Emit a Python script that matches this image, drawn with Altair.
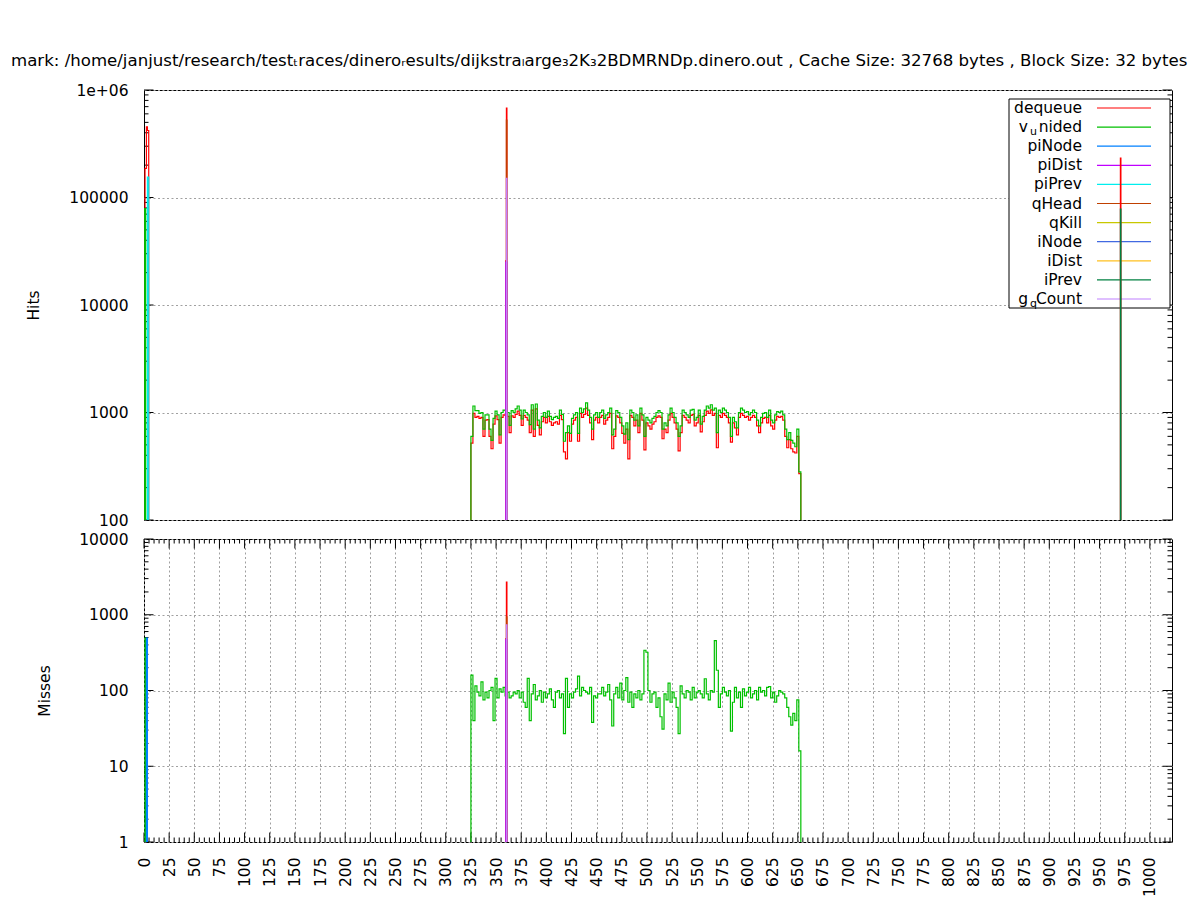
import altair as alt
import pandas as pd

FONT = "DejaVu Sans"
FS = 15.5

TITLE = ("mark: /home/janjust/research/test\u209craces/dinero\u1d63esults/"
         "dijkstra\u2097arge\u20832K\u20832BDMRNDp.dinero.out , Cache Size: 32768 bytes , "
         "Block Size: 32 bytes, Assoc: 1")

NAMES = ["dequeue", "v_unided", "piNode", "piDist", "piPrev", "qHead",
         "qKill", "iNode", "iDist", "iPrev", "g_qCount"]
COLORS = ["#ff0000", "#00c000", "#0080ff", "#c000ff", "#00eeee", "#c04000",
          "#c8c800", "#4169e1", "#ffc020", "#008040", "#c080ff"]
LEGEND_MAIN = ["dequeue", "nided", "piNode", "piDist", "piPrev", "qHead",
               "qKill", "iNode", "iDist", "iPrev", "Count"]
SUB_NAMES = ["v_unided", "g_qCount"]
SUB_PRE = ["v", "g"]
SUB_LOW = ["u", "q"]

X_DOMAIN = [0, 1022]
HITS_DOMAIN = [100, 1000000]
MISSES_DOMAIN = [1, 10000]
HITS_TICKS = [100, 1000, 10000, 100000, 1000000]
MISSES_TICKS = [1, 10, 100, 1000, 10000]
X_TICKS = list(range(0, 1001, 25))
X_MINOR = [v for v in range(0, 1021, 5) if v % 25]
HITS_MINOR = [m * 10 ** e for e in range(2, 6) for m in range(2, 10)]
MISSES_MINOR = [m * 10 ** e for e in range(0, 4) for m in range(2, 10)]

LO = 0.01  # below the log axis -> drawn outside and clipped

NOISE_X = list(range(325, 653, 2))
HITS_VUNIDED_NOISE = [
    600, 1150, 1040, 1040, 980, 1000, 700, 950, 950, 700,
    550, 880, 1030, 950, 620, 1000, 1050, 1040, 1000, 760,
    1040, 1000, 1080, 1150, 1050, 870, 1050, 1000, 950, 770,
    1180, 700, 1200, 850, 720, 920, 1000, 900, 1030, 920,
    860, 900, 920, 880, 1050, 960, 540, 650, 750, 640,
    880, 950, 1000, 640, 1100, 1000, 1080, 1230, 1050, 900,
    700, 950, 1000, 900, 1000, 1050, 880, 950, 1000, 1100,
    620, 700, 1040, 1000, 900, 750, 630, 800, 560, 1050,
    1000, 850, 950, 750, 1100, 950, 600, 900, 850, 800,
    880, 920, 1000, 1040, 1000, 700, 800, 750, 950, 1100,
    1000, 900, 800, 600, 750, 1050, 1000, 950, 900, 1050,
    1070, 850, 900, 1050, 780, 920, 1050, 1150, 1100, 1180,
    1050, 1100, 650, 1050, 1000, 1100, 1050, 1000, 900, 600,
    900, 820, 720, 1000, 1100, 1050, 1000, 1020, 950, 1000,
    1050, 1000, 850, 750, 900, 980, 1000, 900, 1050, 850,
    800, 950, 1020, 1000, 1030, 950, 700, 560, 650, 550,
    520, 480, 700, 280,
]
HITS_DEQUEUE_NOISE = [
    520, 980, 900, 920, 880, 900, 600, 850, 860, 600,
    460, 780, 930, 860, 520, 900, 950, 940, 920, 650,
    930, 900, 960, 1030, 940, 760, 940, 900, 850, 650,
    1050, 600, 1080, 760, 620, 820, 900, 800, 920, 820,
    760, 800, 820, 780, 940, 860, 430, 370, 650, 540,
    780, 850, 900, 540, 980, 900, 960, 1100, 940, 800,
    560, 850, 900, 800, 900, 940, 780, 850, 900, 980,
    460, 600, 930, 900, 800, 640, 520, 700, 370, 940,
    900, 750, 850, 650, 980, 850, 450, 800, 750, 700,
    780, 820, 900, 930, 900, 570, 700, 650, 850, 980,
    900, 800, 700, 440, 650, 940, 900, 850, 800, 940,
    960, 750, 800, 940, 660, 820, 940, 1030, 980, 1060,
    940, 980, 470, 940, 900, 980, 940, 900, 800, 530,
    800, 720, 620, 900, 980, 940, 900, 920, 850, 900,
    940, 900, 750, 650, 800, 880, 900, 800, 940, 750,
    700, 850, 920, 900, 920, 850, 600, 470, 560, 460,
    430, 420, 600, 270,
]
MISSES_VUNIDED_NOISE = [
    160, 40, 115, 95, 85, 130, 75, 95, 80, 100,
    110, 40, 145, 80, 105, 95, 110, 85, 95, 80,
    85, 95, 90, 100, 80, 95, 70, 60, 145, 40,
    90, 120, 75, 85, 100, 70, 95, 80, 90, 105,
    75, 60, 95, 100, 80, 90, 27, 145, 60, 90,
    80, 95, 105, 155, 85, 110, 100, 95, 90, 110,
    38, 85, 80, 90, 90, 110, 85, 95, 120, 75,
    34, 90, 110, 80, 125, 75, 100, 148, 70, 95,
    60, 90, 80, 100, 75, 90, 340, 320, 100, 70,
    90, 95, 60, 80, 45, 31, 90, 75, 125, 70,
    95, 80, 60, 27, 115, 90, 80, 100, 95, 75,
    110, 80, 95, 100, 90, 80, 143, 90, 75, 100,
    95, 455, 185, 60, 90, 110, 95, 85, 100, 29,
    70, 110, 80, 95, 60, 105, 85, 95, 110, 80,
    90, 100, 75, 110, 95, 100, 85, 110, 113, 80,
    95, 70, 85, 100, 95, 90, 80, 60, 45, 35,
    50, 40, 75, 16,
]

HITS = {
    "dequeue": [([0, 1, 2.4, 3.4, 4.7], [LO, 187000, 453000, 420000, LO]),
                ([323], [LO]), (NOISE_X, HITS_DEQUEUE_NOISE), ([653], [LO]),
                ([359.5, 360.3, 360.8], [25700, 680000, 25000]),
                ([969, 970.7, 971.2], [LO, 233000, LO])],
    "v_unided": [([0, 0.7, 1.7], [LO, 79000, LO]),
                 ([323], [LO]), (NOISE_X, HITS_VUNIDED_NOISE), ([653], [LO])],
    "piDist": [([359, 359.5, 361], [LO, 25000, LO])],
    "piPrev": [([3, 3.4, 4.7], [LO, 155000, LO])],
    "qHead": [([359, 360.3, 360.8], [LO, 525000, LO])],
    "iPrev": [([969, 970.7, 971.2], [LO, 78000, LO])],
    "g_qCount": [([359, 360.3, 360.8], [LO, 151000, LO])],
}
MISSES = {
    "dequeue": [([358, 359.5, 360.3, 360.8, 361], [LO, 480, 2700, 450, LO])],
    "v_unided": [([0, 1, 2], [LO, 490, LO]),
                 ([323], [LO]), (NOISE_X, MISSES_VUNIDED_NOISE), ([653], [LO]),
                 ([359.8, 360.2], [278, 85])],
    "piNode": [([2, 2.4, 3.4], [LO, 490, LO])],
    "piDist": [([359, 359.5, 361], [LO, 470, LO])],
    "qHead": [([359, 360.3, 360.8], [LO, 940, LO])],
    "g_qCount": [([359, 360.3, 360.8], [LO, 735, LO])],
}

W = 1028
H_TOP = 430
H_BOT = 303
MAJ = 9.5
MIN = 4.5
GRID = dict(grid=True, gridColor="#a0a0a0", gridDash=[2, 2.5], gridWidth=1)


def series_df(pieces):
    pts = {}
    for xs, vs in pieces:
        for x, v in zip(xs, vs):
            pts[float(x)] = v
    xs = sorted(pts)
    return pd.DataFrame({"x": xs, "v": [pts[x] for x in xs]})


def xscale():
    return alt.Scale(domain=X_DOMAIN, nice=False, zero=False)


def yscale(dom):
    return alt.Scale(type="log", domain=dom, nice=False)


def y_axis(values, title, title_x, h, label_expr):
    return alt.Axis(values=values, labelExpr=label_expr, title=title, ticks=False,
                    domain=False, labelPadding=16, labelFont=FONT, labelFontSize=FS,
                    labelColor="black", labelFlush=False, labelOverlap=False,
                    titleFont=FONT, titleFontSize=FS, titleFontWeight="normal",
                    titleColor="black", titleX=title_x, titleY=h / 2, titleAngle=270,
                    titleBaseline="middle", titleAlign="center", **GRID)


def hrules(values, dom, x0, x1, axis):
    return alt.Chart(pd.DataFrame({"t": values})).mark_rule(
        color="black", strokeWidth=1).encode(
        y=alt.Y("t:Q", scale=yscale(dom), axis=axis),
        x=alt.value(x0), x2=alt.value(x1))


def vrules(values, y0, y1, axis):
    return alt.Chart(pd.DataFrame({"t": values})).mark_rule(
        color="black", strokeWidth=1).encode(
        x=alt.X("t:Q", scale=xscale(), axis=axis),
        y=alt.value(y0), y2=alt.value(y1))


def lines(data, dom):
    layers = []
    for name, col in zip(NAMES, COLORS):
        if name not in data:
            continue
        df = series_df(data[name])
        layers.append(alt.Chart(df).mark_line(
            color=col, strokeWidth=1.2, interpolate="step-after", clip=True).encode(
            x=alt.X("x:Q", scale=xscale(), axis=None),
            y=alt.Y("v:Q", scale=yscale(dom), axis=None)))
    return alt.layer(*layers)


# ---------------- top panel (Hits) ----------------
hits_axis = y_axis(HITS_TICKS, "Hits", -111, H_TOP,
                   "datum.value >= 1000000 ? '1e+06' : format(datum.value, 'd')")
title_mark = alt.Chart(pd.DataFrame({"t": [TITLE]})).mark_text(
    align="left", baseline="top", font=FONT, fontSize=16.6, color="black",
    limit=1178, ellipsis="\u200b").encode(
    x=alt.value(-133), y=alt.value(-37.5), text="t:N")

top_axes = alt.layer(
    hrules(HITS_TICKS, HITS_DOMAIN, 0, MAJ, hits_axis),
    hrules(HITS_TICKS, HITS_DOMAIN, W - MAJ, W, hits_axis),
    hrules(HITS_MINOR, HITS_DOMAIN, 0, MIN, hits_axis),
    hrules(HITS_MINOR, HITS_DOMAIN, W - MIN, W, hits_axis),
    title_mark,
)

leg_df = pd.DataFrame({"name": NAMES, "label": LEGEND_MAIN})
sub_df = pd.DataFrame({"name": SUB_NAMES, "pre": SUB_PRE, "sub": SUB_LOW})
leg_y = alt.Y("name:N", scale=alt.Scale(type="point", domain=NAMES, range=[18, 209],
                                        padding=0), axis=None)
legend = alt.layer(
    alt.Chart(pd.DataFrame({"a": [0]})).mark_rect(
        fill="white", stroke="black", strokeWidth=1).encode(
        x=alt.value(865), x2=alt.value(1026), y=alt.value(9), y2=alt.value(218)),
    alt.Chart(leg_df).mark_rule(strokeWidth=1.2).encode(
        x=alt.value(953), x2=alt.value(1007), y=leg_y,
        color=alt.Color("name:N", scale=alt.Scale(domain=NAMES, range=COLORS),
                        legend=None)),
    alt.Chart(leg_df).mark_text(align="right", baseline="middle", font=FONT,
                                fontSize=FS, color="black").encode(
        x=alt.value(938), y=leg_y, text="label:N"),
    alt.Chart(sub_df).mark_text(align="right", baseline="middle", font=FONT,
                                fontSize=FS, color="black").encode(
        x=alt.value(884), y=leg_y, text="pre:N"),
    alt.Chart(sub_df).mark_text(align="right", baseline="middle", font=FONT,
                                fontSize=11, color="black", dy=5).encode(
        x=alt.value(893), y=leg_y, text="sub:N"),
)

top = alt.layer(top_axes, legend, lines(HITS, HITS_DOMAIN)).resolve_scale(
    x="independent", y="independent").properties(width=W, height=H_TOP)

# ---------------- bottom panel (Misses) ----------------
misses_axis = y_axis(MISSES_TICKS, "Misses", -100, H_BOT, "format(datum.value, 'd')")
x_axis = alt.Axis(values=X_TICKS, labelExpr="format(datum.value, 'd')",
                  labelAngle=270, labelAlign="right",
                  labelBaseline="middle", labelPadding=15, ticks=False, domain=False,
                  labelFont=FONT, labelFontSize=FS, labelColor="black",
                  labelFlush=False, labelOverlap=False, title=None, **GRID)

bottom_axes = alt.layer(
    hrules(MISSES_TICKS, MISSES_DOMAIN, 0, MAJ, misses_axis),
    hrules(MISSES_TICKS, MISSES_DOMAIN, W - MAJ, W, misses_axis),
    hrules(MISSES_MINOR, MISSES_DOMAIN, 0, MIN, misses_axis),
    hrules(MISSES_MINOR, MISSES_DOMAIN, W - MIN, W, misses_axis),
    vrules(X_TICKS, H_BOT, H_BOT - MAJ, x_axis),
    vrules(X_TICKS, 0, MAJ, x_axis),
    vrules(X_MINOR, H_BOT, H_BOT - MIN, x_axis),
    vrules(X_MINOR, 0, MIN, x_axis),
)
bottom = alt.layer(bottom_axes, lines(MISSES, MISSES_DOMAIN)).resolve_scale(
    x="independent", y="independent").properties(width=W, height=H_BOT)

chart = alt.vconcat(top, bottom, spacing=19, bounds="flush").properties(
    padding={"left": 2, "top": 44, "right": 0, "bottom": 0},
    background="white",
).configure_view(stroke="black", strokeWidth=1)

chart.save("out.html", embed_options={"renderer": "svg", "actions": False})
